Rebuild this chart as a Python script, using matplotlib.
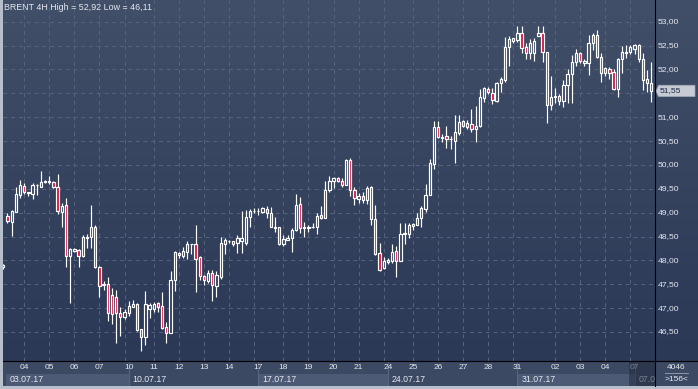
import matplotlib
matplotlib.use("Agg")
import matplotlib.pyplot as plt
import numpy as np
from matplotlib.colors import to_rgb
from matplotlib.patches import Rectangle, Polygon
from matplotlib.lines import Line2D

plt.rcParams['font.family'] = ['Liberation Sans', 'DejaVu Sans']

# BRENT 4H candles
opens = [47.87, 48.93, 48.81, 49.02, 49.36, 49.55, 49.41, 49.39, 49.57, 49.53,
         49.64, 49.65, 49.64, 49.53, 49.02, 49.16, 48.10, 48.19, 48.22, 48.10,
         48.46, 48.50, 48.69, 47.87, 47.49, 47.50, 47.27, 47.23, 46.89, 46.81,
         46.89, 47.03, 47.09, 46.56, 46.40, 46.99, 46.99, 47.10, 47.04, 46.60,
         46.47, 47.58, 48.12, 48.09, 48.18, 48.34, 48.35, 48.07, 47.67, 47.57,
         47.73, 47.46, 47.65, 48.34, 48.40, 48.41, 48.36, 48.41, 48.36, 48.90,
         49.03, 49.04, 49.02, 49.07, 48.99, 48.68, 48.69, 48.34, 48.42, 48.46,
         48.64, 49.18, 48.67, 48.68, 48.69, 48.70, 48.95, 48.89, 49.48, 49.66,
         49.72, 49.66, 49.58, 50.10, 49.48, 49.29, 49.34, 49.27, 49.53, 48.87,
         48.16, 47.84, 47.97, 47.99, 48.20, 47.99, 48.55, 48.56, 48.72, 48.74,
         48.88, 49.07, 49.36, 50.02, 50.80, 50.57, 50.61, 50.54, 50.51, 50.66,
         50.91, 50.80, 50.86, 50.75, 50.82, 51.40, 51.59, 51.50, 51.34, 51.72,
         51.78, 52.48, 52.60, 52.62, 52.77, 52.46, 52.34, 52.34, 52.71, 52.76,
         52.36, 51.26, 51.43, 51.45, 51.33, 51.67, 51.90, 52.16, 52.34, 52.14,
         52.14, 52.55, 52.72, 52.27, 51.93, 52.02, 51.95, 51.60, 52.21, 52.34,
         52.37, 52.42, 52.51, 52.21, 51.79, 51.72]
highs = [47.92, 49.00, 49.06, 49.53, 49.69, 49.63, 49.44, 49.62, 49.60, 49.87,
         49.69, 49.76, 49.66, 49.81, 49.21, 49.30, 48.27, 48.27, 48.23, 48.53,
         48.55, 49.16, 48.74, 47.88, 47.57, 47.65, 47.43, 47.37, 47.02, 46.99,
         47.14, 47.17, 47.10, 46.57, 47.36, 47.10, 47.13, 47.13, 47.33, 46.70,
         47.77, 48.20, 48.18, 48.28, 48.40, 48.35, 48.74, 48.09, 47.70, 47.80,
         47.80, 47.78, 48.50, 48.47, 48.42, 48.41, 48.54, 49.04, 49.06, 49.07,
         49.09, 49.09, 49.12, 49.13, 49.11, 48.91, 48.71, 48.53, 48.53, 48.67,
         49.39, 49.33, 48.81, 48.74, 48.78, 48.99, 49.13, 49.66, 49.76, 49.74,
         49.74, 49.72, 50.13, 50.14, 49.53, 49.42, 49.43, 49.56, 49.55, 49.16,
         48.36, 48.07, 48.05, 48.35, 48.31, 48.79, 48.79, 48.79, 48.79, 48.99,
         49.14, 49.61, 50.12, 50.91, 50.91, 50.65, 50.82, 50.61, 51.05, 51.05,
         50.95, 50.95, 51.17, 51.24, 51.59, 51.64, 51.64, 51.61, 51.74, 51.85,
         52.69, 52.70, 52.65, 52.92, 52.91, 52.56, 52.63, 52.65, 52.90, 52.90,
         52.37, 51.86, 51.61, 51.48, 51.78, 52.02, 52.30, 52.42, 52.37, 52.22,
         52.72, 52.77, 52.83, 52.34, 52.06, 52.05, 52.02, 52.25, 52.49, 52.51,
         52.51, 52.53, 52.53, 52.34, 51.99, 52.16]
lows = [47.83, 48.78, 48.51, 49.02, 49.31, 49.39, 49.34, 49.28, 49.36, 49.53,
        49.63, 49.60, 49.51, 48.97, 48.71, 47.86, 47.10, 48.17, 47.86, 48.08,
        48.27, 48.25, 47.85, 47.23, 47.37, 46.74, 46.66, 46.26, 46.42, 46.78,
        46.83, 47.03, 46.52, 46.11, 46.23, 46.80, 46.91, 46.92, 46.56, 46.28,
        46.47, 47.35, 48.05, 48.05, 48.03, 48.13, 47.33, 47.59, 47.48, 47.53,
        47.15, 47.23, 47.62, 48.13, 48.36, 48.31, 48.16, 48.16, 48.33, 48.71,
        48.99, 48.95, 48.99, 48.89, 48.69, 48.59, 48.33, 48.30, 48.42, 48.18,
        48.62, 48.58, 48.50, 48.59, 48.68, 48.56, 48.86, 48.89, 49.43, 49.51,
        49.64, 49.53, 49.58, 49.35, 49.16, 49.20, 49.21, 49.19, 48.74, 48.11,
        47.78, 47.82, 47.92, 47.95, 47.66, 47.99, 48.34, 48.48, 48.64, 48.74,
        48.69, 49.02, 49.36, 49.91, 50.56, 50.49, 50.35, 50.34, 50.05, 50.62,
        50.79, 50.76, 50.70, 50.49, 50.80, 51.31, 51.48, 51.28, 51.32, 51.53,
        51.74, 52.07, 52.56, 52.58, 52.34, 52.21, 52.21, 52.18, 52.71, 52.16,
        50.87, 51.16, 51.29, 51.26, 51.21, 51.29, 51.29, 52.07, 52.13, 52.08,
        51.88, 52.40, 52.25, 51.74, 51.86, 51.79, 51.57, 51.43, 51.93, 52.25,
        52.32, 52.32, 52.16, 51.57, 51.53, 51.32]
closes = [47.90, 48.83, 49.04, 49.39, 49.58, 49.44, 49.43, 49.58, 49.59, 49.64,
          49.66, 49.66, 49.53, 49.04, 49.14, 48.10, 48.23, 48.23, 48.10, 48.50,
          48.48, 48.71, 47.86, 47.47, 47.51, 46.89, 46.87, 46.89, 46.81, 46.91,
          47.05, 47.08, 46.54, 46.40, 47.08, 47.06, 47.08, 47.03, 46.58, 46.47,
          47.58, 48.17, 48.15, 48.19, 48.34, 48.35, 48.02, 47.67, 47.58, 47.73,
          47.49, 47.70, 48.36, 48.43, 48.41, 48.34, 48.46, 48.48, 48.90, 49.04,
          49.04, 49.04, 49.10, 48.99, 48.69, 48.70, 48.35, 48.45, 48.46, 48.64,
          49.16, 48.67, 48.70, 48.70, 48.71, 48.94, 48.88, 49.48, 49.66, 49.72,
          49.66, 49.58, 50.10, 49.48, 49.30, 49.35, 49.27, 49.51, 48.87, 48.14,
          47.80, 47.99, 48.01, 48.18, 47.99, 48.56, 48.58, 48.74, 48.76, 48.88,
          49.10, 49.36, 50.04, 50.79, 50.58, 50.59, 50.54, 50.55, 50.68, 50.89,
          50.82, 50.87, 50.75, 50.82, 51.42, 51.61, 51.52, 51.36, 51.71, 51.81,
          52.48, 52.63, 52.65, 52.76, 52.46, 52.34, 52.55, 52.60, 52.76, 52.36,
          51.26, 51.43, 51.45, 51.33, 51.67, 51.90, 52.16, 52.34, 52.18, 52.18,
          52.55, 52.72, 52.27, 51.93, 52.04, 51.93, 51.60, 52.21, 52.36, 52.37,
          52.48, 52.51, 52.21, 51.78, 51.72, 51.55]

day_labels = ["04", "05", "06", "07", "10", "11", "12", "13", "14", "17", "18", "19",
              "20", "21", "24", "25", "26", "27", "28", "31", "02", "03", "04", "07"]
day_pos = [5, 11, 17, 23, 30, 36, 42, 48, 54, 61, 67, 73,
           79, 85, 92, 98, 104, 110, 116, 123, 132, 138, 144, 151]
week_labels = ["03.07.17", "10.07.17", "17.07.17", "24.07.17", "31.07.17", "07.0"]
week_pos = [0.6, 30, 61, 92, 123, 151]
price_ticks = np.arange(46.5, 53.01, 0.5)
title = "BRENT 4H High = 52,92 Low = 46,11"
bar_count = "4046"
visible_bars = ">156<"

W, H = 698, 389
y_top, y_bot = 53.455, 45.893
x_lo, x_hi = -0.07, 155.9
top_c = np.array(to_rgb('#424f68'))
bot_c = np.array(to_rgb('#2b3856'))
red = '#e0123e'
fg = '#e4e8f0'

def bg_at(p):
    f = (y_top - p) / (y_top - y_bot)
    return tuple(top_c * (1 - f) + bot_c * f)

t = np.linspace(0, 1, 256)[:, None, None]
grad_img = top_c * (1 - t) + bot_c * t

fig = plt.figure(figsize=(W / 100, H / 100), dpi=100)
fig.patch.set_facecolor('#b7bfcc')

# main price area
ax = fig.add_axes([3 / W, 1 - 361 / H, 652 / W, 361 / H])
ax.set_xlim(x_lo, x_hi)
ax.set_ylim(y_bot, y_top)
ax.imshow(grad_img, extent=(x_lo, x_hi, y_bot, y_top), aspect='auto', origin='upper', zorder=0)
ax.axis('off')

grid_c = '#57647e'
ax.hlines(price_ticks, x_lo, x_hi, colors=grid_c, lw=0.7, linestyles=(0, (4, 4)), zorder=1)
week_set = set(week_pos[1:])
grid_pos = [p - 1 if p in week_set else p for p in day_pos]
ax.vlines(grid_pos, y_bot, y_top, colors=grid_c, lw=0.7, linestyles=(0, (4, 4)), zorder=1)

o = np.array(opens); hi = np.array(highs); lo = np.array(lows); c = np.array(closes)
x = np.arange(len(o))
body_lo = np.minimum(o, c)
body_hi = np.maximum(o, c)
ax.vlines(x, lo, body_lo, colors='white', lw=0.85, zorder=2)
ax.vlines(x, body_hi, hi, colors='white', lw=0.85, zorder=2)
faces = [red if cc < oo else bg_at((oo + cc) / 2) for oo, cc in zip(o, c)]
ax.bar(x, body_hi - body_lo, bottom=body_lo, width=0.55, color=faces,
       edgecolor='white', linewidth=0.85, zorder=3)

ax.text(1 / 652, 1 - 8 / 361, title, transform=ax.transAxes, color=fg,
        fontsize=6.4, ha='left', va='center', zorder=5)

# right price scale
rp = fig.add_axes([655 / W, 1 - 361 / H, 43 / W, 361 / H])
rp.set_xlim(0, 43)
rp.set_ylim(y_bot, y_top)
rp.imshow(grad_img, extent=(0, 43, y_bot, y_top), aspect='auto', origin='upper', zorder=0)
rp.axis('off')
last = closes[-1]
hh = 0.12
for p in price_ticks:
    if abs(p - last) < 0.2:
        continue  # hidden behind the last-price marker
    rp.text(2.3, p, f"{p:.2f}".replace('.', ','), color=fg, fontsize=6.1,
            ha='left', va='center', zorder=2)
rp.add_patch(Polygon([(1.0, last), (3.5, last + hh), (40, last + hh), (40, last - hh), (3.5, last - hh)],
                     closed=True, facecolor='#c6cbd4', edgecolor='#9aa2b0', lw=0.5, zorder=4))
rp.text(5.0, last, f"{last:.2f}".replace('.', ','), color='#1d2a47', fontsize=6.1,
        ha='left', va='center', zorder=5)

# time axis strip
bx = fig.add_axes([3 / W, 3 / H, 652 / W, 25 / H])
bx.set_xlim(x_lo, x_hi)
bx.set_ylim(0, 25)
bx.axis('off')
row_c = '#3c4963'
bx.add_patch(Rectangle((x_lo, 0), x_hi - x_lo, 25, facecolor=row_c, edgecolor='none', zorder=0))
ends = week_pos[1:] + [x_hi]
for i, (lab, s, e) in enumerate(zip(week_labels, week_pos, ends)):
    fc = '#4d5a75' if i % 2 == 0 else row_c
    bx.add_patch(Rectangle((s, 0), e - s, 12.5, facecolor=fc, edgecolor='none', zorder=1))
    if i > 0:
        bx.plot([s, s], [0, 25], color='#5f6c86', lw=0.6, zorder=2)
    bx.text(s + 0.9, 6.2, lab, color=fg, fontsize=6.3, ha='left', va='center', zorder=3, clip_on=True)
for lab, p in zip(day_labels, day_pos):
    bx.text(p, 18.6, lab, color=fg, fontsize=6.0, ha='center', va='center', zorder=3, clip_on=True)
# shaded area for the running week
bx.add_patch(Rectangle((week_pos[-1] - 1.3, 0), x_hi - week_pos[-1] + 1.3, 25,
                       facecolor='#222b40', alpha=0.55, edgecolor='none', zorder=4))

# corner box
cx = fig.add_axes([655 / W, 3 / H, 43 / W, 25 / H])
cx.set_xlim(0, 43)
cx.set_ylim(0, 25)
cx.axis('off')
cx.add_patch(Rectangle((0, 0), 43, 25, facecolor=row_c, edgecolor='none'))
cx.text(21.5, 18.6, bar_count, color=fg, fontsize=6.0, ha='center', va='center')
cx.plot([10, 33], [12.6, 12.6], color='#9aa3b3', lw=0.6)
cx.text(21.5, 6.2, visible_bars, color=fg, fontsize=6.0, ha='center', va='center')

# frame lines
fig.add_artist(Line2D([3 / W, 1], [1 - 361 / H] * 2, color='black', lw=0.8, transform=fig.transFigure))
fig.add_artist(Line2D([655 / W] * 2, [3 / H, 1], color='black', lw=0.8, transform=fig.transFigure))

fig.savefig("out.png", dpi=100, facecolor=fig.get_facecolor())
